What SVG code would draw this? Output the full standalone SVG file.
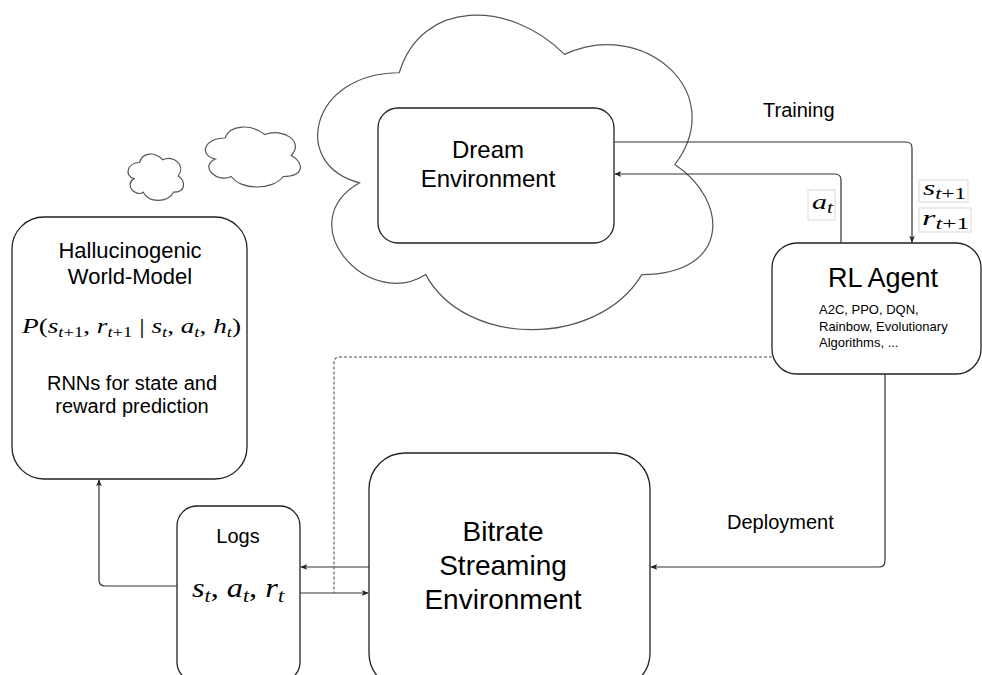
<svg xmlns="http://www.w3.org/2000/svg" width="982" height="675" viewBox="0 0 982 675">
<defs>
<style>
.box{fill:#fff;stroke:#222;stroke-width:1.3}
.cloud{fill:#fff;stroke:#555;stroke-width:1.2}
.lbl{fill:#fff;stroke:#d8d8d8;stroke-width:1}
.t{font-family:"Liberation Sans",Arial,sans-serif;fill:#000}
.m{font-family:"Liberation Serif","Times New Roman",serif;font-style:italic;fill:#000}
.up{font-style:normal}
.c{fill:none;stroke:#333;stroke-width:1.2}
.d{fill:none;stroke:#555;stroke-width:1.1;stroke-dasharray:3 2}
</style>
<marker id="ah" viewBox="0 0 10 10" refX="9" refY="5" markerWidth="7" markerHeight="7" orient="auto" markerUnits="userSpaceOnUse">
<path d="M0,1 L10,5 L0,9 L2.5,5 z" fill="#222"/>
</marker>
</defs>
<rect width="982" height="675" fill="#fff"/>

<g id="small-cloud-1">
<path class="cloud" transform="translate(124,149) scale(62,54)" vector-effect="non-scaling-stroke" d="M0.25,0.25 C0.05,0.25 0,0.5 0.16,0.55 C0,0.66 0.18,0.9 0.31,0.8 C0.4,1 0.7,1 0.8,0.8 C1,0.8 1,0.6 0.875,0.5 C1,0.3 0.8,0.1 0.625,0.2 C0.5,0.05 0.3,0.05 0.25,0.25 Z"/>
</g>
<g id="small-cloud-2">
<path class="cloud" transform="translate(198.5,120.5) scale(106,70)" vector-effect="non-scaling-stroke" d="M0.25,0.25 C0.05,0.25 0,0.5 0.16,0.55 C0,0.66 0.18,0.9 0.31,0.8 C0.4,1 0.7,1 0.8,0.8 C1,0.8 1,0.6 0.875,0.5 C1,0.3 0.8,0.1 0.625,0.2 C0.5,0.05 0.3,0.05 0.25,0.25 Z"/>
</g>
<g id="dream-cloud">
<path class="cloud" transform="translate(289,-19) scale(441,367)" vector-effect="non-scaling-stroke" d="M0.25,0.25 C0.05,0.25 0,0.5 0.16,0.55 C0,0.66 0.18,0.9 0.31,0.8 C0.4,1 0.7,1 0.8,0.8 C1,0.8 1,0.6 0.875,0.5 C1,0.3 0.8,0.1 0.625,0.2 C0.5,0.05 0.3,0.05 0.25,0.25 Z"/>
</g>

<g id="dream-environment">
<rect class="box" x="378" y="108" width="236" height="135" rx="20"/>
<text class="t" font-size="24" text-anchor="middle" x="488" y="158">Dream</text>
<text class="t" font-size="24" text-anchor="middle" x="488" y="187">Environment</text>
</g>

<g id="world-model">
<rect class="box" x="12" y="217" width="235" height="262" rx="32"/>
<text class="t" font-size="22" text-anchor="middle" x="130" y="258">Hallucinogenic</text>
<text class="t" font-size="22" text-anchor="middle" x="130" y="284">World-Model</text>
<text class="m" font-size="22" x="22" y="333" textLength="219" lengthAdjust="spacingAndGlyphs">P<tspan class="up">(</tspan>s<tspan font-size="15" dy="4">t<tspan class="up">+1</tspan></tspan><tspan class="up" dy="-4">, </tspan>r<tspan font-size="15" dy="4">t<tspan class="up">+1</tspan></tspan><tspan class="up" dy="-4"> | </tspan>s<tspan font-size="15" dy="4">t</tspan><tspan class="up" dy="-4">, </tspan>a<tspan font-size="15" dy="4">t</tspan><tspan class="up" dy="-4">, </tspan>h<tspan font-size="15" dy="4">t</tspan><tspan class="up" dy="-4">)</tspan></text>
<text class="t" font-size="20" text-anchor="middle" x="132" y="390">RNNs for state and</text>
<text class="t" font-size="20" text-anchor="middle" x="132" y="413">reward prediction</text>
</g>

<g id="rl-agent">
<rect class="box" x="772" y="243" width="209" height="131" rx="25"/>
<text class="t" font-size="27" text-anchor="middle" x="883" y="287">RL Agent</text>
<text class="t" font-size="13" x="819" y="314">A2C, PPO, DQN,</text>
<text class="t" font-size="13" x="819" y="331">Rainbow, Evolutionary</text>
<text class="t" font-size="13" x="819" y="347">Algorithms, ...</text>
</g>

<g id="logs">
<rect class="box" x="177" y="506" width="123" height="176" rx="20"/>
<text class="t" font-size="20" text-anchor="middle" x="238" y="543">Logs</text>
<text class="m" font-size="28" x="192" y="597" textLength="92" lengthAdjust="spacingAndGlyphs">s<tspan font-size="19" dy="5">t</tspan><tspan class="up" dy="-5">, </tspan>a<tspan font-size="19" dy="5">t</tspan><tspan class="up" dy="-5">, </tspan>r<tspan font-size="19" dy="5">t</tspan></text>
</g>

<g id="bitrate-environment">
<rect class="box" x="369" y="453" width="281" height="236" rx="36"/>
<text class="t" font-size="28" text-anchor="middle" x="503" y="541">Bitrate</text>
<text class="t" font-size="28" text-anchor="middle" x="503" y="575">Streaming</text>
<text class="t" font-size="28" text-anchor="middle" x="503" y="609">Environment</text>
</g>

<g id="connectors">
<path class="c" d="M614,142 H906 Q912,142 912,148 V242" marker-end="url(#ah)"/>
<path class="c" d="M841,243 V180 Q841,174 835,174 H615" marker-end="url(#ah)"/>
<path class="c" d="M885,374 V561 Q885,567 879,567 H651" marker-end="url(#ah)"/>
<path class="c" d="M369,567 H301" marker-end="url(#ah)"/>
<path class="c" d="M300,593 H368" marker-end="url(#ah)"/>
<path class="d" d="M772,357 H340 Q334,357 334,363 V593"/>
<path class="c" d="M177,586 H105 Q99,586 99,580 V480" marker-end="url(#ah)"/>
<text class="t" font-size="20" x="763" y="117">Training</text>
<text class="t" font-size="20" x="727" y="529">Deployment</text>
<rect class="lbl" x="919" y="180" width="49" height="22"/>
<text class="m" font-size="22" x="923" y="195" textLength="43" lengthAdjust="spacingAndGlyphs">s<tspan font-size="16" dy="4">t<tspan class="up">+1</tspan></tspan></text>
<rect class="lbl" x="919" y="208" width="52" height="24"/>
<text class="m" font-size="22" x="922" y="225" textLength="47" lengthAdjust="spacingAndGlyphs">r<tspan font-size="16" dy="4">t<tspan class="up">+1</tspan></tspan></text>
<rect class="lbl" x="808" y="190" width="27" height="30"/>
<text class="m" font-size="22" x="812" y="209" textLength="21" lengthAdjust="spacingAndGlyphs">a<tspan font-size="16" dy="4">t</tspan></text>
</g>
</svg>
